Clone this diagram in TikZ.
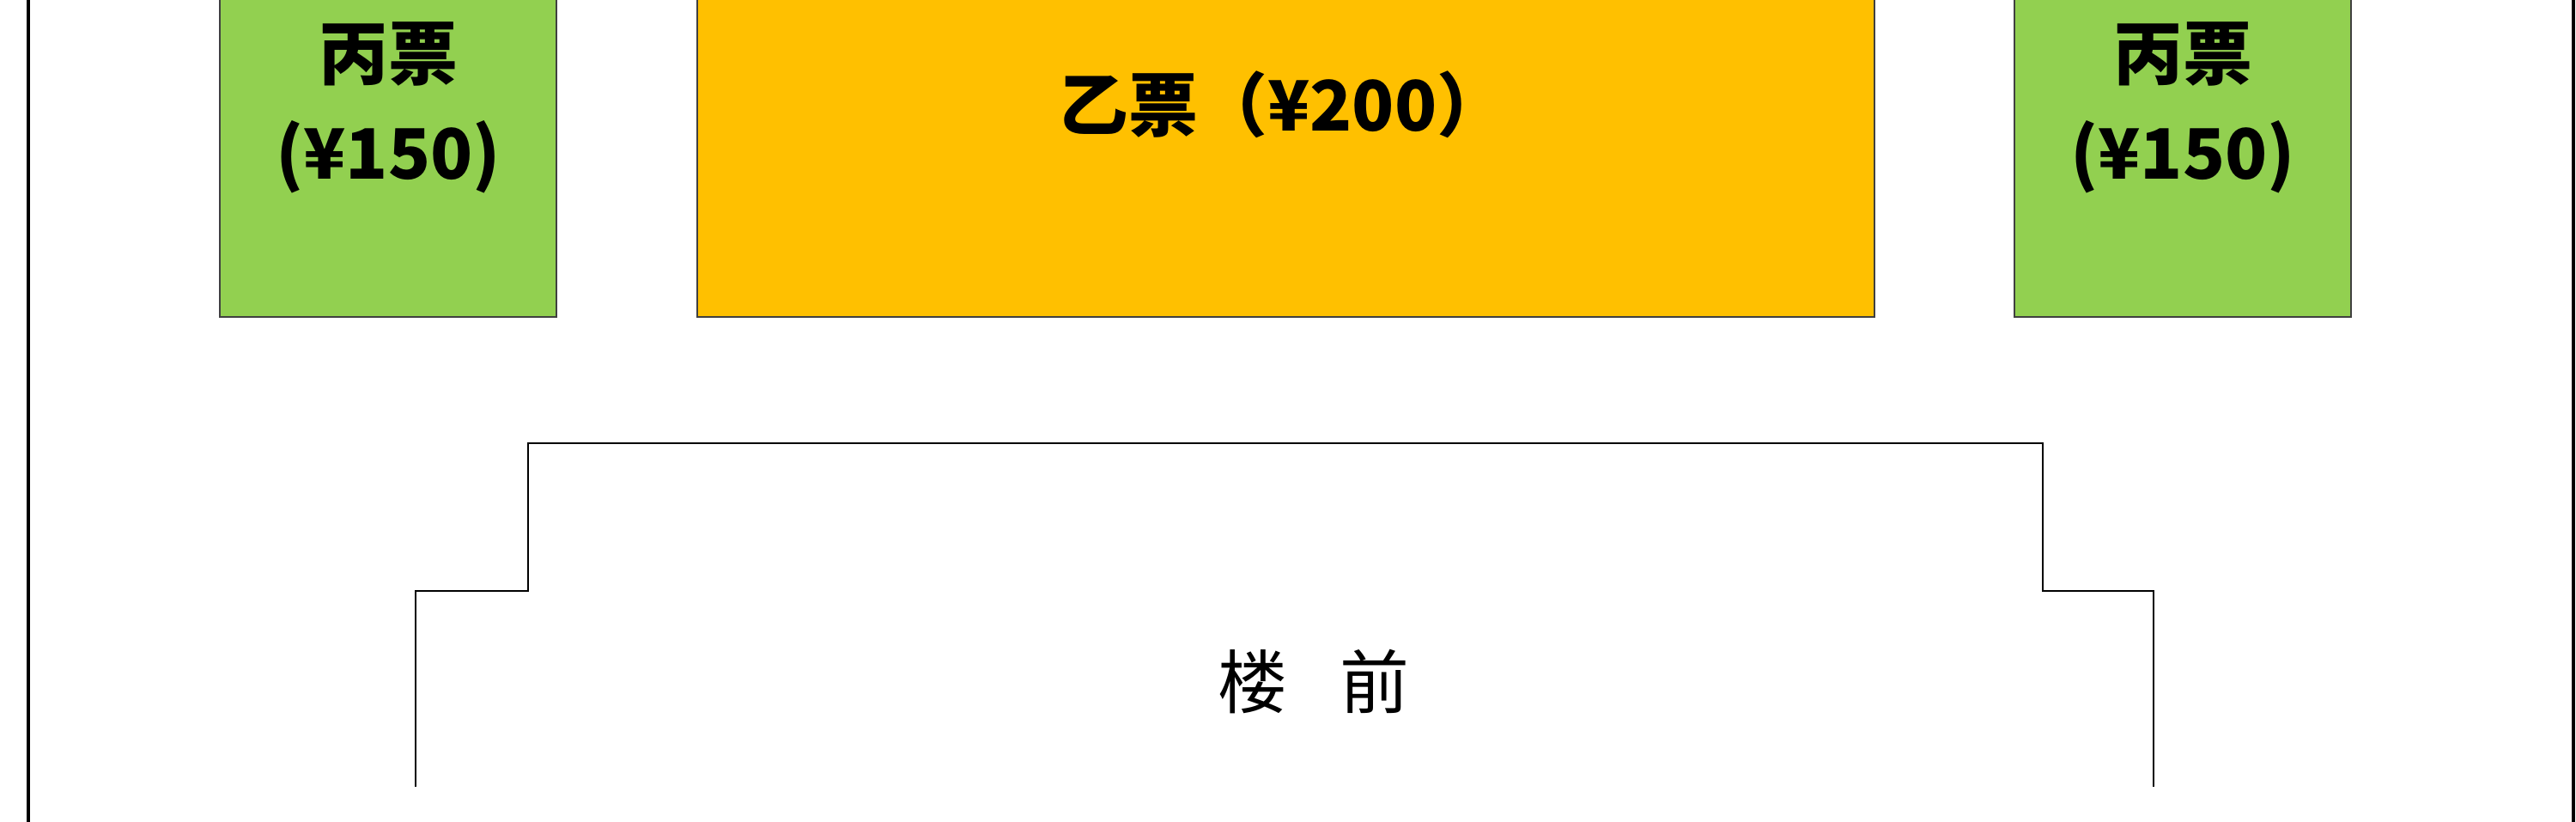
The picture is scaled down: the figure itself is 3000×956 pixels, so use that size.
\documentclass[tikz,border=0pt]{standalone}
\usepackage{fontspec}
\setmainfont{Noto Sans CJK SC}
\definecolor{seatgreen}{HTML}{92D050}
\definecolor{seatgold}{HTML}{FFC000}
\tikzset{
  seatbox/.style={draw=black!75,line width=0.5pt},
  pricelabel/.style={font=\bfseries\fontsize{23}{33}\selectfont,align=center,inner sep=0pt},
  wall/.style={line width=0.65pt,line cap=rect}
}

\begin{document}
\begin{tikzpicture}[x=0.01cm,y=0.01cm]
\useasboundingbox (0,0) rectangle (3000,956);
\clip (0,0) rectangle (3000,956);
% outer walls
\draw[line width=0.9pt] (33,-10) -- (33,1000);
\draw[line width=1.2pt] (2997,-10) -- (2997,1000);
% seat blocks
\foreach \xa/\xb in {256/648,2346/2738}{
  \draw[seatbox,fill=seatgreen] (\xa,587) rectangle (\xb,1010);
}
\draw[seatbox,fill=seatgold] (812,587) rectangle (2183,1010);
% price labels
\node[pricelabel] (bingL) at (452,831) {丙票\\(¥150)};
\node[pricelabel] (bingR) at (2542,831) {丙票\\(¥150)};
\node[pricelabel,font=\bfseries\fontsize{23}{28}\selectfont] (yi) at (1494,834) {乙票（¥200）};
% stage outline
\draw[wall] (484,41) -- (484,268) -- (615,268) -- (615,440) -- (2379,440)
  -- (2379,268) -- (2508,268) -- (2508,41);
\node[font=\fontsize{23}{28}\selectfont] (front) at (1530,162) {楼\hspace{0.75em}前};
\end{tikzpicture}
\end{document}
